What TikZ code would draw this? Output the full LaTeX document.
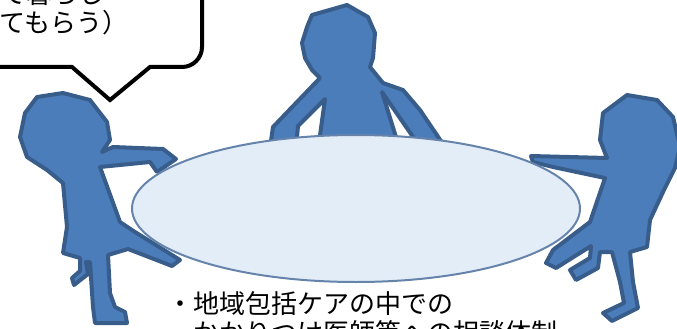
\documentclass[tikz,border=0pt]{standalone}
\usepackage{fontspec}
\usepackage{tikz}
\newfontfamily\jp{Noto Sans CJK JP}
\definecolor{bodyfill}{HTML}{4B7DBB}
\definecolor{bodyline}{HTML}{385D8A}
\definecolor{tablefill}{HTML}{E2EDF8}
\definecolor{tableline}{HTML}{6684AB}

\begin{document}
\begin{tikzpicture}[x=0.75pt,y=-0.75pt,
		person/.style={fill=bodyfill,draw=bodyline,line width=3pt,line join=round},
		words/.style={font=\jp\fontsize{19.5}{22}\selectfont,inner sep=0pt,anchor=base west}]
		\useasboundingbox (0,0) rectangle (677,328);
		\draw[fill=white,line width=3pt] (-20,67) -- (72,67) -- (110,100) -- (150,67) -- (182,67)
			arc[start angle=90,end angle=0,radius=20] -- (202,-20) -- (-20,-20) -- cycle;
		\node[words] (say1) at (-208,4) {（住み慣れた地域で暮らし};
		\node[words] (say2) at (-208,33) {続けるよう支援してもらう）};
		\draw[person] (37,97) -- (63,93) -- (90,100) -- (107,122) -- (110,140) -- (102,152)
			-- (113,147) -- (163,149) -- (176,159) -- (157,172) -- (150,162) -- (100,167)
			-- (120,222) -- (135,232) -- (180,260) -- (172,266) -- (128,249)
			-- (108,255) -- (110,293) -- (115,307) -- (125,312) -- (127,323) -- (95,323) -- (93,307) -- (90,262)
			-- (86,262) -- (88,274) -- (74,285) -- (72,278) -- (80,271) -- (80,258)
			-- (63,253) -- (67,227) -- (63,183) -- (47,170) -- (27,157) -- (20,137) -- (25,113) -- cycle;
		\draw[person] (312,15) -- (347,5) -- (368,17) -- (375,33) -- (373,58) -- (370,67)
			-- (383,83) -- (403,90) -- (420,110) -- (447,150) -- (422,150) -- (382,92)
			-- (400,150) -- (318,150) -- (325,99) -- (298,126) -- (296,148) -- (270,148)
			-- (273,127) -- (320,78) -- (312,70) -- (305,58) -- (302,43) -- (307,27) -- cycle;
		\draw[person] (627,95) -- (657,100) -- (673,117) -- (680,147) -- (675,168) -- (663,192)
			-- (650,220) -- (647,247) -- (630,252) -- (633,282) -- (638,308) -- (612,321) -- (603,313)
			-- (624,303) -- (620,282) -- (612,252) -- (600,252) -- (598,268) -- (576,280) -- (570,270)
			-- (590,258) -- (591,246) -- (556,268) -- (546,263) -- (553,250) -- (590,222)
			-- (605,178) -- (553,167) -- (533,162) -- (531,156) -- (607,158) -- (600,140) -- (603,113) -- cycle;
		\draw[fill=tablefill,draw=tableline,line width=1.5pt] (356,208.5) ellipse [x radius=224,y radius=73.5];
		\node[words] (note1) at (167,313) {・地域包括ケアの中での};
		\node[words] (note2) at (167,342) {　かかりつけ医師等への相談体制};
	\end{tikzpicture}
\end{document}
